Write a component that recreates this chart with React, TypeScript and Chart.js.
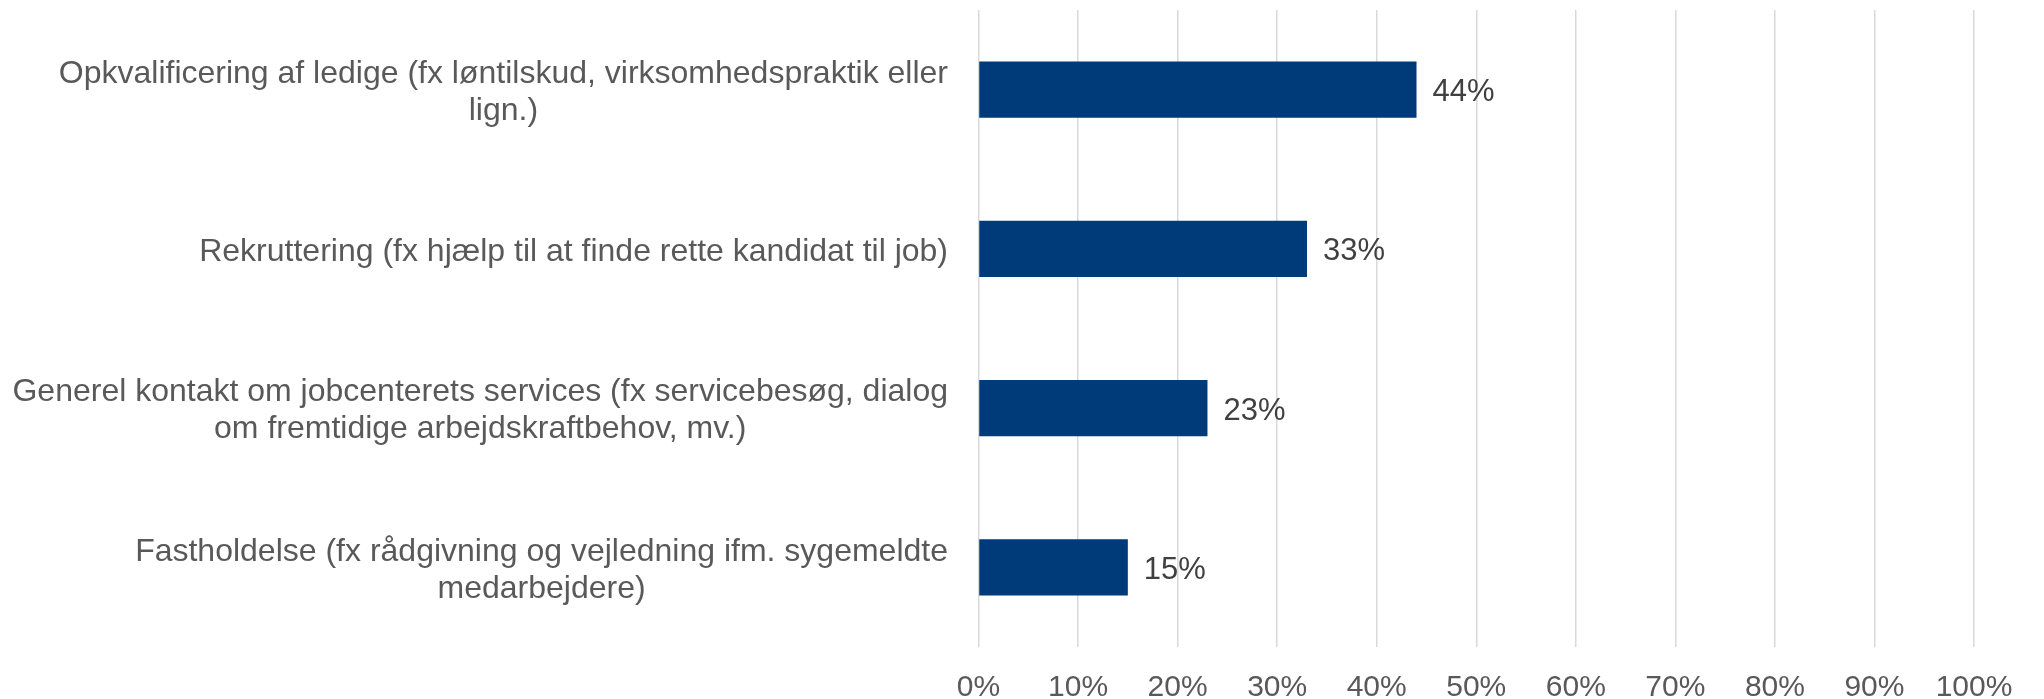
import React, { useEffect, useRef } from "react";
import { Chart, registerables } from "chart.js";

Chart.register(...registerables);

const categories: string[][] = [
  ["Opkvalificering af ledige (fx løntilskud, virksomhedspraktik eller", "lign.)"],
  ["Rekruttering (fx hjælp til at finde rette kandidat til job)"],
  ["Generel kontakt om jobcenterets services (fx servicebesøg, dialog", "om fremtidige arbejdskraftbehov, mv.)"],
  ["Fastholdelse (fx rådgivning og vejledning ifm. sygemeldte", "medarbejdere)"],
];
const values: number[] = [44, 33, 23, 15];
const valueLabels: string[] = ["44%", "33%", "23%", "15%"];

const FONT = "'Liberation Sans', Arial, sans-serif";
const AXIS_WIDTH = 978.5;
const LABEL_RIGHT = 948;
const LINE_H = 37;

const categoryLabelPlugin = {
  id: "categoryLabels",
  afterDraw(chart: any) {
    const ctx = chart.ctx;
    const yScale = chart.scales.y;
    ctx.save();
    ctx.font = `32px ${FONT}`;
    ctx.fillStyle = "#595959";
    ctx.textAlign = "center";
    ctx.textBaseline = "middle";
    categories.forEach((lines, i) => {
      const cy = yScale.getPixelForValue(i);
      const maxW = Math.max(...lines.map((l) => ctx.measureText(l).width));
      const cx = LABEL_RIGHT - maxW / 2;
      const startY = cy - ((lines.length - 1) * LINE_H) / 2;
      lines.forEach((l, j) => ctx.fillText(l, cx, startY + j * LINE_H + 3));
    });
    ctx.restore();
  },
};

const valueLabelPlugin = {
  id: "valueLabels",
  afterDatasetsDraw(chart: any) {
    const ctx = chart.ctx;
    const meta = chart.getDatasetMeta(0);
    ctx.save();
    ctx.font = `31px ${FONT}`;
    ctx.fillStyle = "#404040";
    ctx.textAlign = "left";
    ctx.textBaseline = "middle";
    meta.data.forEach((bar: any, i: number) => {
      ctx.fillText(valueLabels[i], bar.x + 16, bar.y + 3);
    });
    ctx.restore();
  },
};

export default function App() {
  const ref = useRef<HTMLCanvasElement | null>(null);
  useEffect(() => {
    document.body.style.margin = "0";
    const chart = new Chart(ref.current!, {
      type: "bar",
      data: {
        labels: categories.map((c) => c.join(" ")),
        datasets: [
          {
            data: values,
            backgroundColor: "#003b79",
            borderWidth: 0,
            categoryPercentage: 1,
            barPercentage: 0.352,
          },
        ],
      },
      options: {
        indexAxis: "y",
        animation: false,
        responsive: true,
        maintainAspectRatio: false,
        layout: { padding: { top: 10, right: 70, left: 0, bottom: 0 } },
        plugins: { legend: { display: false }, tooltip: { enabled: false } },
        scales: {
          x: {
            min: 0,
            max: 100,
            ticks: {
              stepSize: 10,
              callback: (v: any) => `${v}%`,
              font: { family: FONT, size: 30 },
              color: "#595959",
              padding: 23,
              maxRotation: 0,
            },
            grid: { color: "#d9d9d9", lineWidth: 1.5, drawTicks: false },
            border: { display: false },
            afterFit: (s: any) => {
              s.height = 52;
            },
          },
          y: {
            ticks: { display: false },
            grid: { display: false },
            border: { display: false },
            afterFit: (s: any) => {
              s.width = AXIS_WIDTH;
            },
          },
        },
      },
      plugins: [categoryLabelPlugin, valueLabelPlugin],
    });
    return () => chart.destroy();
  }, []);
  return (
    <div style={{ position: "relative", width: "2044px", height: "699px" }}>
      <canvas ref={ref} />
    </div>
  );
}
